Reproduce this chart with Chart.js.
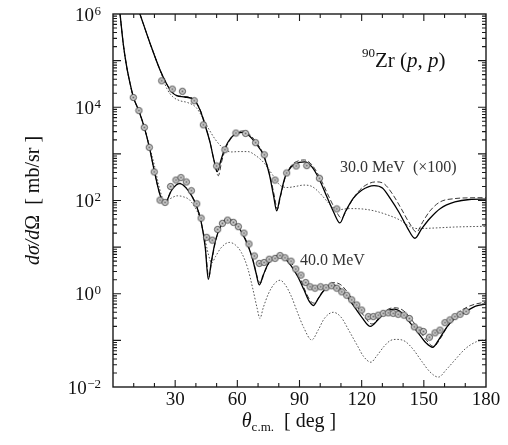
<!DOCTYPE html>
<html>
<head>
<meta charset="utf-8">
<script src="https://cdn.jsdelivr.net/npm/chart.js@4.4.0/dist/chart.umd.min.js"></script>
<style>
    html, body { margin: 0; padding: 0; background: #fff; }
    #wrap { width: 508px; height: 445px; }
</style>
</head>
<body>
<div id="wrap"><canvas id="xsec" width="508" height="445"></canvas></div>
<script>
// measured points, 30 MeV (scaled x100)
const th30Data = [23.5, 28.6, 33.5, 39.2, 43.6, 50.0, 54.0, 59.3, 64.0, 68.8, 73.0, 78.2, 83.8, 88.4, 93.5, 99.6, 108.0]
const xs30Data = [3.7e4, 2.45e4, 2.2e4, 1.38e4, 4.2e3, 550, 1.23e3, 2.8e3, 2.75e3, 1.74e3, 955, 275, 390, 550, 560, 300, 66]

// measured points, 40 MeV
const th40Data = [9.8, 12.5, 15.1, 17.5, 19.9, 22.7, 25.1, 27.8, 30.4, 32.8, 35.4, 37.8, 40.4, 42.5, 45.2, 47.9,
    50.5, 52.8, 55.3, 58.1, 60.5, 63.2, 65.6, 68.2, 70.6, 72.9, 75.4, 78.2, 80.6, 83.0, 85.9, 88.2, 90.7, 93.0,
    95.1, 97.5, 100.2, 102.8, 105.5, 108.0, 110.4, 112.8, 115.2, 117.6, 120.0, 123.2, 125.6, 128.0, 130.4, 132.8,
    135.2, 137.6, 140.4, 143.0, 145.4, 147.8, 149.8, 152.7, 155.4, 157.8, 160.2, 162.6, 165.0, 167.5, 170.4]
const xs40Data = [1.62e4, 8.5e3, 3.7e3, 1.38e3, 410, 102, 91, 200, 275, 310, 250, 162, 85, 42, 16.2, 14.1,
    24, 32.4, 38, 34, 27.5, 20, 11.7, 6.46, 4.47, 4.68, 5.5, 5.75, 6.6, 5.9, 5.0, 3.39, 2.51, 1.74,
    1.41, 1.32, 1.41, 1.35, 1.48, 1.32, 1.10, 0.93, 0.74, 0.575, 0.447, 0.324, 0.324, 0.347, 0.38, 0.39,
    0.38, 0.363, 0.347, 0.295, 0.195, 0.166, 0.155, 0.117, 0.145, 0.166, 0.24, 0.275, 0.324, 0.363, 0.417]

// 30 MeV calculations
const th30Solid = [13.0, 17.9, 22.7, 25.9, 28.3, 30.7, 34.5, 38.8, 42.0, 44.5, 46.8, 48.8, 50.3, 52.0, 54.0, 57.0,
    60.0, 62.9, 66.0, 69.0, 72.5, 75.5, 77.5, 79.0, 80.5, 83.0, 86.0, 90.0, 92.5, 96.0, 99.6, 103.0, 106.5,
    109.5, 112.0, 116.0, 120.0, 126.0, 130.0, 134.0, 138.0, 142.0, 145.7, 149.0, 153.0, 158.0, 165.0, 172.0, 180.0]
const xs30Solid = [1e6, 2.34e5, 6.3e4, 3.16e4, 2.14e4, 1.78e4, 1.66e4, 1.48e4, 8.7e3, 4.0e3, 1.78e3, 710, 417, 710, 1.32e3, 2.24e3,
    2.75e3, 2.88e3, 2.4e3, 1.66e3, 955, 355, 126, 60, 112, 316, 525, 660, 676, 525, 282, 126, 56,
    33, 56, 112, 166, 209, 186, 107, 56, 26.3, 15.5, 25, 41.7, 67.6, 93, 105, 107]

const th30Dash = [13.0, 17.9, 22.7, 25.9, 28.3, 30.7, 34.5, 38.8, 42.0, 44.5, 46.8, 49.0, 50.8, 52.5, 54.5, 57.5,
    60.0, 63.0, 66.0, 69.0, 72.5, 75.5, 77.8, 79.3, 80.8, 83.3, 86.0, 90.0, 92.5, 96.0, 100.0, 103.5, 107.0,
    110.3, 113.0, 117.0, 121.0, 127.0, 131.0, 135.0, 139.0, 143.0, 146.5, 149.5, 153.0, 157.8, 165.0, 172.0, 180.0]
const xs30Dash = [1e6, 2.34e5, 6.3e4, 3.16e4, 2.14e4, 1.8e4, 1.7e4, 1.5e4, 9e3, 4.2e3, 1.8e3, 640, 340, 700, 1.35e3, 2.3e3,
    2.9e3, 3.1e3, 2.6e3, 1.8e3, 1.0e3, 380, 130, 65, 120, 330, 560, 720, 740, 580, 300, 140, 68,
    42, 66, 130, 200, 251, 225, 135, 68, 33, 21, 35, 60, 93, 110, 114, 115]

const th30Dot = [13.0, 17.9, 22.7, 26.0, 29.0, 32.3, 36.0, 40.0, 43.0, 46.0, 49.5, 53.0, 57.0, 61.0, 65.0, 69.0,
    73.0, 77.0, 80.5, 84.0, 88.0, 92.0, 96.0, 100.0, 104.0, 108.0, 114.0, 120.0, 126.0, 132.0, 138.5, 143.0,
    147.0, 155.0, 165.0, 180.0]
const xs30Dot = [1e6, 2.34e5, 6.3e4, 2.5e4, 1.66e4, 1.38e4, 1.26e4, 1.0e4, 6.3e3, 3.55e3, 2.0e3, 1.35e3, 1.1e3, 1.12e3, 1.12e3, 912,
    631, 355, 214, 190, 200, 214, 200, 141, 89, 63, 67, 66, 60, 50, 38, 28,
    25, 25.7, 27, 28]

// 40 MeV calculations
const th40Solid = [3.4, 5.0, 6.6, 8.2, 9.8, 12.5, 15.1, 17.5, 20.0, 22.5, 24.5, 26.0, 28.0, 30.5, 32.3, 35.0,
    38.0, 40.4, 42.5, 44.5, 46.0, 47.5, 49.5, 52.0, 54.9, 58.0, 61.0, 64.0, 67.0, 69.0, 70.6, 72.5,
    75.0, 78.0, 80.1, 83.0, 86.0, 89.0, 92.0, 94.5, 96.7, 99.0, 102.0, 105.5, 108.5, 112.0, 116.0, 120.0,
    124.2, 128.0, 132.0, 135.8, 139.0, 143.0, 147.0, 151.0, 154.3, 157.0, 161.0, 165.0, 169.0, 175.0, 180.0]
const xs40Solid = [1e6, 2.2e5, 7.4e4, 3.3e4, 1.66e4, 8.3e3, 3.7e3, 1.41e3, 417, 141, 89, 100, 158, 214, 229, 191,
    126, 74, 35.5, 10, 2.04, 5.0, 14.1, 28.2, 39.8, 35.5, 25.1, 14.1, 6.3, 2.82, 1.55, 2.51,
    4.47, 6.17, 6.6, 5.62, 3.98, 2.4, 1.26, 0.71, 0.56, 0.79, 1.2, 1.55, 1.41, 1.0, 0.56, 0.316,
    0.2, 0.28, 0.42, 0.468, 0.40, 0.25, 0.151, 0.089, 0.071, 0.1, 0.19, 0.3, 0.38, 0.54, 0.6]

const th40Dash = [3.4, 5.0, 6.6, 8.2, 9.8, 12.5, 15.1, 17.5, 20.0, 22.5, 24.5, 26.0, 28.0, 30.5, 32.3, 35.0,
    38.0, 40.4, 42.5, 44.5, 46.2, 47.7, 49.7, 52.2, 55.0, 58.0, 62.0, 65.0, 68.0, 70.0, 71.2, 73.0,
    75.5, 78.5, 80.8, 84.0, 87.0, 90.0, 93.0, 95.5, 97.5, 100.0, 103.0, 106.5, 110.0, 113.0, 117.0, 121.0,
    125.0, 129.0, 133.0, 136.0, 140.0, 144.0, 148.0, 152.0, 154.8, 158.0, 162.0, 166.0, 171.0, 175.5, 180.0]
const xs40Dash = [1e6, 2.2e5, 7.4e4, 3.3e4, 1.66e4, 8.3e3, 3.7e3, 1.41e3, 417, 141, 89, 102, 162, 220, 235, 195,
    128, 75, 36, 10.5, 2.3, 5.2, 14.5, 29, 41, 37, 22.4, 11.5, 4.5, 2.0, 1.7, 2.8,
    4.8, 6.6, 7.1, 5.9, 4.0, 2.3, 1.1, 0.68, 0.63, 0.95, 1.4, 1.74, 1.55, 1.1, 0.6, 0.34,
    0.224, 0.33, 0.47, 0.5, 0.44, 0.28, 0.16, 0.092, 0.074, 0.11, 0.22, 0.37, 0.52, 0.61, 0.66]

const th40Dot = [3.4, 5.0, 6.6, 8.2, 9.8, 12.5, 15.1, 17.5, 20.0, 22.5, 25.0, 28.0, 31.0, 34.0, 37.2, 41.6,
    44.0, 46.0, 47.6, 49.5, 52.0, 56.1, 59.0, 62.0, 65.0, 67.5, 69.5, 70.9, 72.5, 75.0, 78.0, 80.6,
    83.0, 86.0, 89.0, 92.0, 95.9, 99.0, 102.0, 106.3, 110.0, 114.0, 118.0, 121.0, 124.5, 127.0, 131.0, 134.0,
    137.0, 141.0, 145.0, 149.0, 153.0, 157.0, 161.0, 165.0, 170.0, 175.0, 180.0]
const xs40Dot = [1e6, 2.2e5, 7.4e4, 3.3e4, 1.66e4, 8.5e3, 3.8e3, 1.51e3, 562, 178, 93, 112, 126, 120, 100, 45.7,
    17.8, 7.1, 4.57, 6.3, 9.5, 12.6, 11.2, 7.6, 3.55, 1.26, 0.5, 0.295, 0.5, 1.0, 1.66, 1.95,
    1.58, 0.89, 0.4, 0.19, 0.102, 0.166, 0.295, 0.4, 0.316, 0.158, 0.076, 0.0447, 0.034, 0.0447, 0.076, 0.1,
    0.105, 0.095, 0.063, 0.0355, 0.021, 0.0163, 0.024, 0.038, 0.066, 0.092, 0.105]

const xTickLabels = [30, 60, 90, 120, 150, 180]
const yLabelPowers = [-2, 0, 2, 4, 6]

const SERIF = '"Liberation Serif", "DejaVu Serif", serif'

const pts = (xs, ys) => xs.map((v, i) => ({ x: v, y: ys[i] }))

// marker: light grey circle with dark rim and centre
const mark = document.createElement('canvas')
mark.width = 9
mark.height = 9
const mc = mark.getContext('2d')
mc.beginPath()
mc.arc(4.5, 4.5, 3.1, 0, Math.PI * 2)
mc.fillStyle = '#d2d2d2'
mc.fill()
mc.lineWidth = 0.9
mc.strokeStyle = '#3c3c3c'
mc.stroke()
mc.fillStyle = '#666'
mc.fillRect(3.6, 3.6, 1.8, 1.8)

function curve(xs, ys, kind) {
    const ds = {
        data: pts(xs, ys),
        showLine: true,
        pointRadius: 0,
        borderColor: '#000',
        borderWidth: 1.3,
        cubicInterpolationMode: 'monotone',
        fill: false
    }
    if (kind === 'dash') {
        ds.borderColor = '#222'
        ds.borderWidth = 0.9
        ds.borderDash = [5, 2.5]
    }
    if (kind === 'dot') {
        ds.borderColor = '#555'
        ds.borderWidth = 1
        ds.borderDash = [1.6, 1.8]
    }
    return ds
}

function markers(xs, ys) {
    return {
        data: pts(xs, ys),
        showLine: false,
        pointStyle: mark,
        pointRadius: 4
    }
}

function drawTitleRun(ctx, runs, x, y) {
    // runs: [text, font, dy]
    let cx = x
    runs.forEach(r => {
        ctx.font = r[1]
        ctx.fillText(r[0], cx, y + (r[2] || 0))
        cx += ctx.measureText(r[0]).width
    })
}

function runWidth(ctx, runs) {
    let w = 0
    runs.forEach(r => {
        ctx.font = r[1]
        w += ctx.measureText(r[0]).width
    })
    return w
}

const frame = {
    id: 'frame',
    afterDraw(chart) {
        const { ctx, chartArea: a, scales: { x, y } } = chart
        ctx.save()
        ctx.strokeStyle = '#1a1a1a'
        ctx.lineWidth = 1.4
        ctx.strokeRect(a.left, a.top, a.right - a.left, a.bottom - a.top)

        ctx.lineWidth = 1.1
        ctx.beginPath()
        for (let d = 10; d < 180; d += 10) {
            const px = x.getPixelForValue(d)
            const len = d % 30 === 0 ? 7 : 4
            ctx.moveTo(px, a.bottom)
            ctx.lineTo(px, a.bottom - len)
            ctx.moveTo(px, a.top)
            ctx.lineTo(px, a.top + len)
        }
        for (let e = -2; e < 6; e++) {
            for (let m = 1; m <= 9; m++) {
                if (e === -2 && m === 1) continue
                const py = y.getPixelForValue(m * Math.pow(10, e))
                const len = m === 1 ? 8 : 4
                ctx.moveTo(a.left, py)
                ctx.lineTo(a.left + len, py)
                ctx.moveTo(a.right, py)
                ctx.lineTo(a.right - len, py)
            }
        }
        ctx.stroke()

        ctx.fillStyle = '#111'
        ctx.textBaseline = 'alphabetic'

        // x tick labels
        ctx.font = '19px ' + SERIF
        ctx.textAlign = 'center'
        xTickLabels.forEach(v => ctx.fillText(String(v), x.getPixelForValue(v), a.bottom + 18))

        // y tick labels 10^n
        yLabelPowers.forEach(p => {
            const py = y.getPixelForValue(Math.pow(10, p))
            const ex = p < 0 ? '\u2212' + (-p) : String(p)
            ctx.font = '13px ' + SERIF
            const ew = ctx.measureText(ex).width
            ctx.textAlign = 'left'
            ctx.fillText(ex, 101 - ew, py + 0.5)
            ctx.font = '19px ' + SERIF
            ctx.textAlign = 'right'
            ctx.fillText('10', 101 - ew - 0.5, py + 6.5)
        })

        ctx.textAlign = 'left'
        // x title
        const xRuns = [['\u03b8', 'italic 20px ' + SERIF], ['c.m.', '13px ' + SERIF, 4], ['  [ deg ]', '20px ' + SERIF]]
        drawTitleRun(ctx, xRuns, 289 - runWidth(ctx, xRuns) / 2, a.bottom + 40)

        // y title, rotated
        const yRuns = [['d\u03c3/d', 'italic 20px ' + SERIF], ['\u03a9', '20px ' + SERIF], ['  [ mb/sr ]', '20px ' + SERIF]]
        ctx.save()
        ctx.translate(39, (a.top + a.bottom) / 2)
        ctx.rotate(-Math.PI / 2)
        drawTitleRun(ctx, yRuns, -runWidth(ctx, yRuns) / 2, 0)
        ctx.restore()

        // reaction label
        drawTitleRun(ctx, [['90', '13px ' + SERIF, -10], ['Zr (', '21px ' + SERIF], ['p', 'italic 21px ' + SERIF],
            [', ', '21px ' + SERIF], ['p', 'italic 21px ' + SERIF], [')', '21px ' + SERIF]], 362, 67)

        // energy labels
        ctx.font = '16px ' + SERIF
        ctx.fillStyle = '#333'
        ctx.fillText('30.0 MeV  (\u00d7100)', 340, 172)
        ctx.fillText('40.0 MeV', 300, 265)
        ctx.restore()
    }
}

new Chart(document.getElementById('xsec'), {
    type: 'scatter',
    data: {
        datasets: [
            markers(th30Data, xs30Data),
            markers(th40Data, xs40Data),
            curve(th30Solid, xs30Solid, 'solid'),
            curve(th30Dash, xs30Dash, 'dash'),
            curve(th30Dot, xs30Dot, 'dot'),
            curve(th40Solid, xs40Solid, 'solid'),
            curve(th40Dash, xs40Dash, 'dash'),
            curve(th40Dot, xs40Dot, 'dot')
        ]
    },
    options: {
        responsive: false,
        animation: false,
        devicePixelRatio: 1,
        layout: { padding: { left: 113, right: 22, top: 14, bottom: 58 } },
        scales: {
            x: { type: 'linear', min: 0, max: 180, display: false },
            y: { type: 'logarithmic', min: 0.01, max: 1e6, display: false }
        },
        plugins: {
            legend: { display: false },
            tooltip: { enabled: false }
        }
    },
    plugins: [frame]
})
</script>
</body>
</html>
